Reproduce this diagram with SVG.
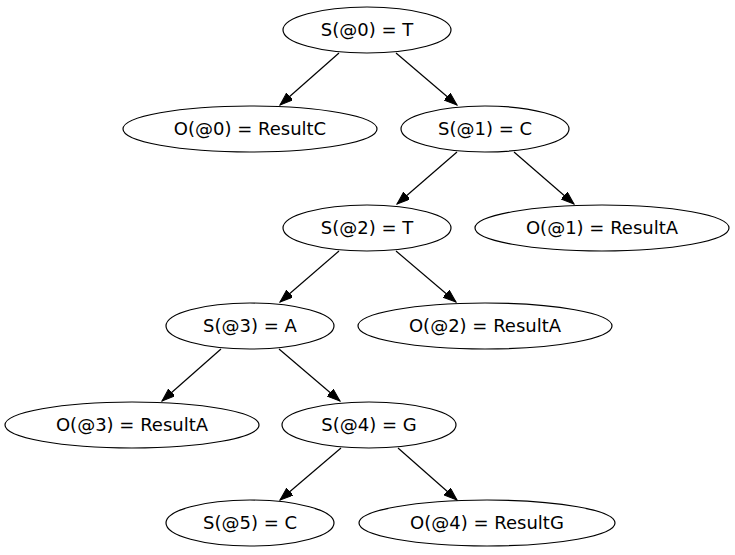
<svg xmlns="http://www.w3.org/2000/svg" width="735" height="555" viewBox="0 0 735 555">
<style>
.n ellipse{fill:none;stroke:#000;stroke-width:1.2}
.n text{font-family:"DejaVu Sans",sans-serif;font-size:18px;text-anchor:middle;fill:#000}
.e line{stroke:#000;stroke-width:1.2;marker-end:url(#ah)}
</style>
<defs>
<marker id="ah" markerUnits="userSpaceOnUse" markerWidth="14" markerHeight="11" refX="13" refY="4.7" orient="auto" viewBox="0 0 14 11">
<path d="M0,0 L13,4.7 L0,9.4 Z" fill="#000" stroke="#000" stroke-width="1"/>
</marker>
</defs>
<rect width="735" height="555" fill="#fff"/>
<g id="edges" class="e">
<line x1="339" y1="53" x2="280" y2="105"/>
<line x1="396" y1="53" x2="457" y2="105"/>
<line x1="457" y1="152" x2="397" y2="204"/>
<line x1="514" y1="152" x2="574" y2="204"/>
<line x1="339" y1="251" x2="280" y2="302"/>
<line x1="396" y1="251" x2="456" y2="302"/>
<line x1="221" y1="349" x2="162" y2="401"/>
<line x1="279" y1="349" x2="340" y2="401"/>
<line x1="341" y1="448" x2="280" y2="500"/>
<line x1="398" y1="448" x2="457" y2="500"/>
</g>
<g id="s0" class="n"><ellipse cx="367" cy="30" rx="84" ry="23"/><text x="367" y="36">S(@0) = T</text></g>
<g id="o0" class="n"><ellipse cx="250" cy="129" rx="127" ry="23"/><text x="250" y="135">O(@0) = ResultC</text></g>
<g id="s1" class="n"><ellipse cx="485" cy="129" rx="84" ry="23"/><text x="485" y="135">S(@1) = C</text></g>
<g id="s2" class="n"><ellipse cx="367" cy="228" rx="84" ry="23"/><text x="367" y="234">S(@2) = T</text></g>
<g id="o1" class="n"><ellipse cx="602" cy="228" rx="127" ry="23"/><text x="602" y="234">O(@1) = ResultA</text></g>
<g id="s3" class="n"><ellipse cx="250" cy="326" rx="84" ry="23"/><text x="250" y="332">S(@3) = A</text></g>
<g id="o2" class="n"><ellipse cx="485" cy="326" rx="127" ry="23"/><text x="485" y="332">O(@2) = ResultA</text></g>
<g id="o3" class="n"><ellipse cx="132" cy="425" rx="127" ry="23"/><text x="132" y="431">O(@3) = ResultA</text></g>
<g id="s4" class="n"><ellipse cx="369" cy="425" rx="87" ry="23"/><text x="369" y="431">S(@4) = G</text></g>
<g id="s5" class="n"><ellipse cx="250" cy="523" rx="84" ry="23"/><text x="250" y="529">S(@5) = C</text></g>
<g id="o4" class="n"><ellipse cx="487" cy="523" rx="128" ry="23"/><text x="487" y="529">O(@4) = ResultG</text></g>
</svg>
